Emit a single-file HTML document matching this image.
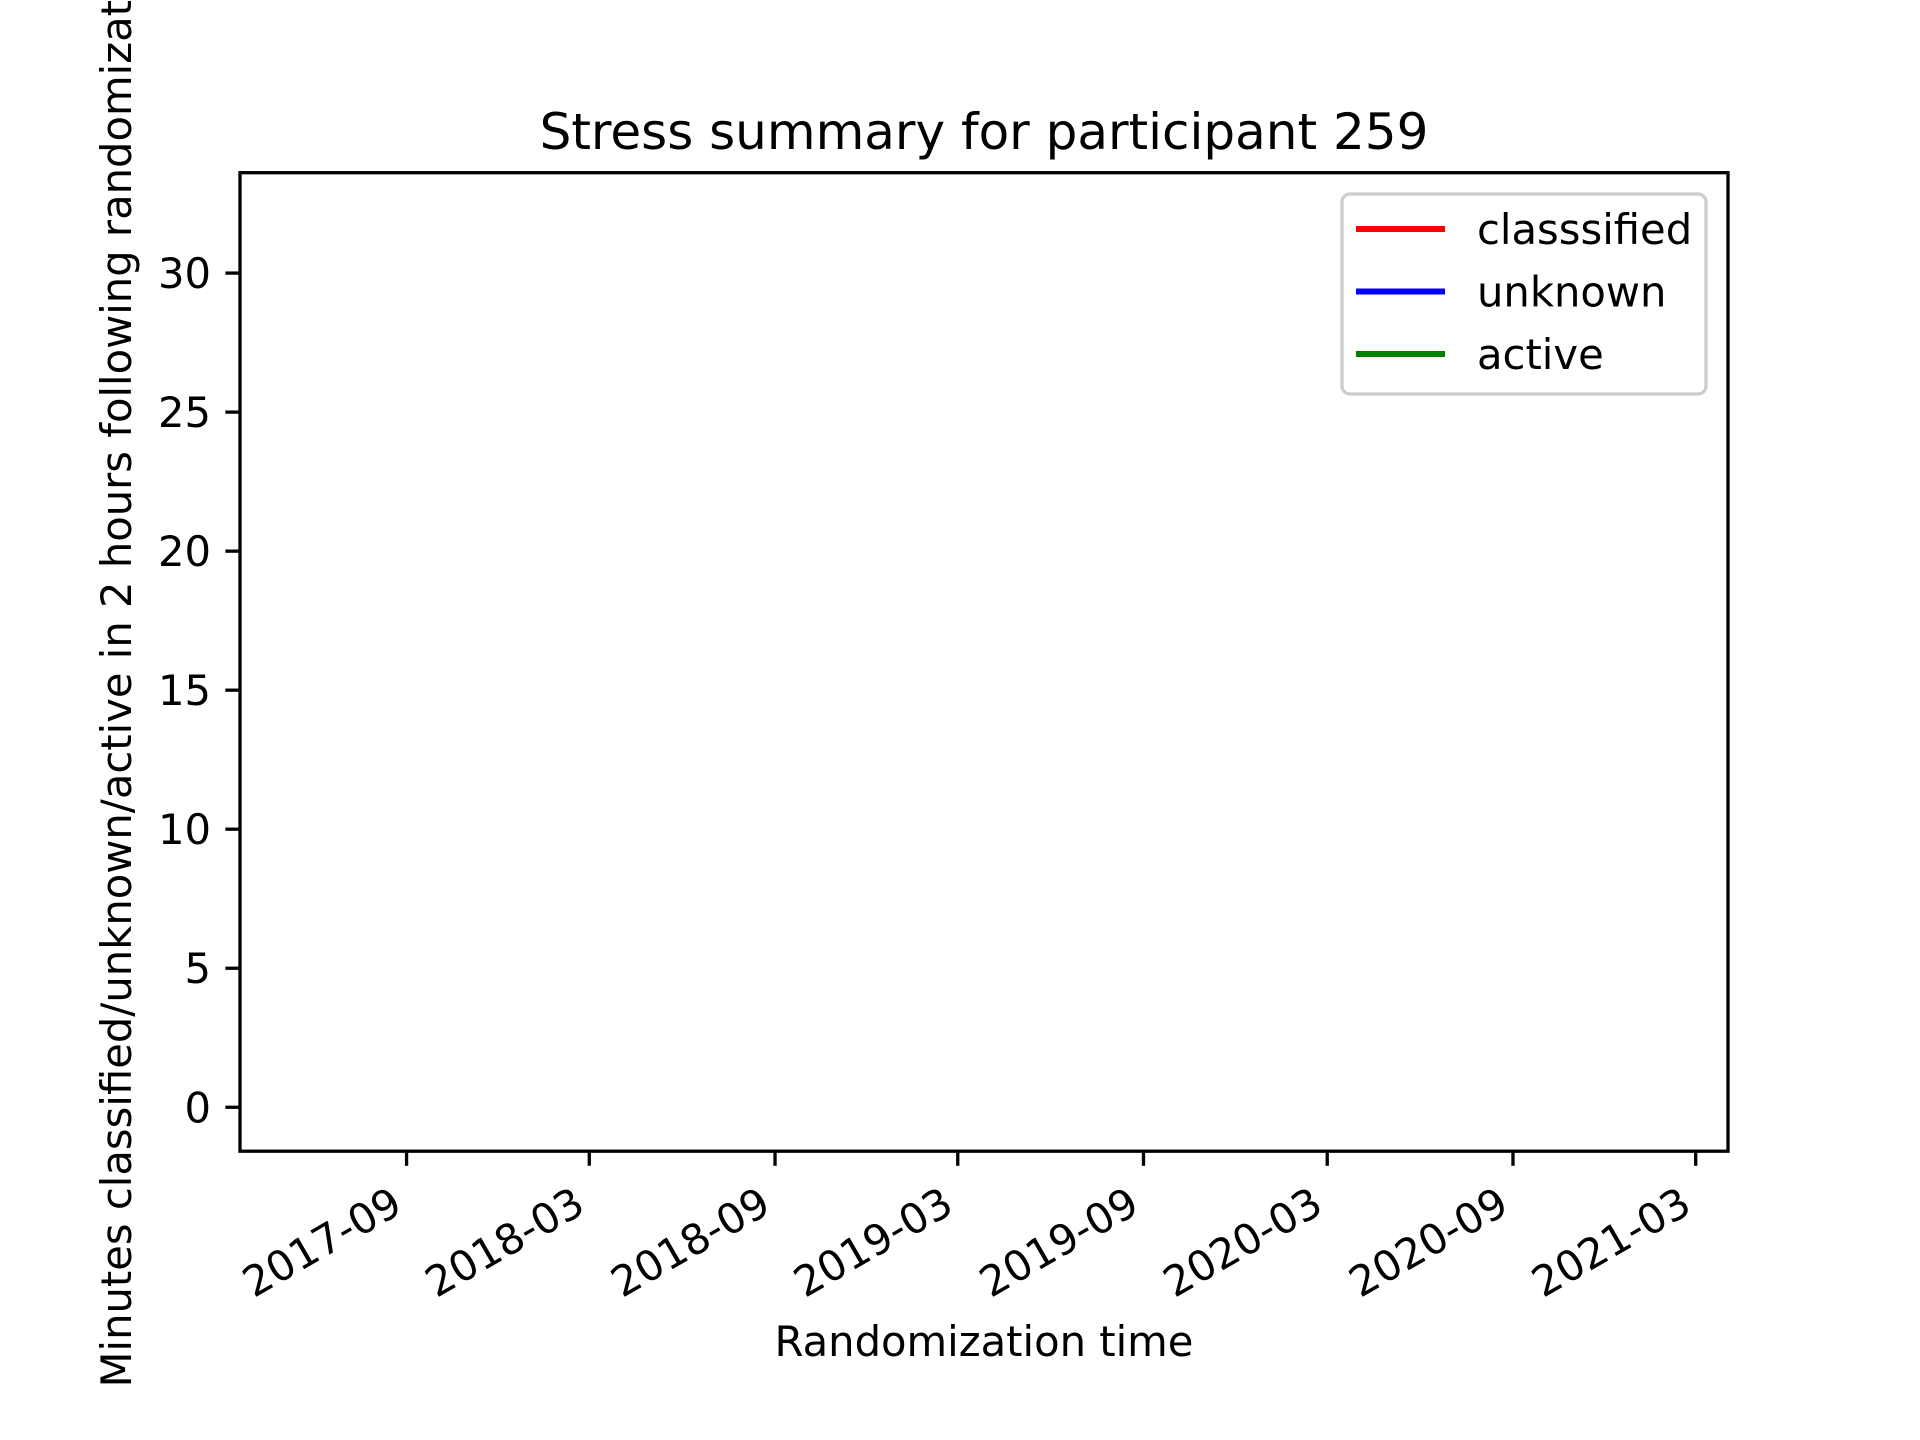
<!DOCTYPE html>
<html><head><meta charset="utf-8"><style>
html,body{margin:0;padding:0;background:#fff;}
svg{display:block;font-family:"DejaVu Sans","Liberation Sans",sans-serif;}
</style></head><body>
<svg id="chart" width="1920" height="1440" viewBox="0 0 1920 1440">
<rect width="1920" height="1440" fill="#fff"/>
<text x="984" y="149" font-size="50" text-anchor="middle">Stress summary for participant 259</text>
<g id="plot"></g>
<rect x="240" y="172.7" width="1488" height="978.5" fill="none" stroke="#000" stroke-width="3.3"/>
<text x="984" y="1356" font-size="41.7" text-anchor="middle">Randomization time</text>
<text transform="translate(131,662) rotate(-90)" font-size="41.7" text-anchor="middle">Minutes classified/unknown/active in 2 hours following randomization</text>
<g>
<rect x="1342" y="194" width="364" height="200" rx="8" fill="#fff" fill-opacity="0.8" stroke="#ccc" stroke-width="3.3"/>
<line x1="1356" y1="229" x2="1445" y2="229" stroke="#ff0000" stroke-width="6"/>
<text x="1477" y="244" font-size="41.7">classsified</text>
<line x1="1356" y1="291.5" x2="1445" y2="291.5" stroke="#0000ff" stroke-width="6"/>
<text x="1477" y="306.5" font-size="41.7">unknown</text>
<line x1="1356" y1="354" x2="1445" y2="354" stroke="#008000" stroke-width="6"/>
<text x="1477" y="369" font-size="41.7">active</text>
</g>
</svg>
<script>
const xTickLabels = ["2017-09","2018-03","2018-09","2019-03","2019-09","2020-03","2020-09","2021-03"];
const yTickValues = [0,5,10,15,20,25,30];
const dates = [];
const classifiedValues = [];
const unknownValues = [];
const activeValues = [];

const L=240,R=1728,T=172.7,B=1151.2;
const xMin=Date.UTC(2017,2,20), xMax=Date.UTC(2021,3,2);
const yMin=-1.58, yMax=33.61;
function xs(d){return L+(d-xMin)/(xMax-xMin)*(R-L);}
function ys(v){return B-(v-yMin)/(yMax-yMin)*(B-T);}
function parseD(s){const p=s.split('-');return Date.UTC(+p[0],+p[1]-1,p[2]?+p[2]:1);}
const NS="http://www.w3.org/2000/svg";
const g=document.getElementById('plot');
function mk(tag,attrs){const e=document.createElementNS(NS,tag);for(const k in attrs)e.setAttribute(k,attrs[k]);g.appendChild(e);return e;}
yTickValues.forEach(v=>{
  const y=ys(v);
  const t=mk('line',{x1:L-14.6,x2:L,y1:y,y2:y,stroke:'#000','stroke-width':3.3});
  
  
  const tx=mk('text',{x:L-29,y:y+15,'font-size':41.7,'text-anchor':'end'});
  tx.textContent=v;
  
  
});
xTickLabels.forEach(s=>{
  const x=xs(parseD(s));
  const t=mk('line',{x1:x,x2:x,y1:B,y2:B+14.6,stroke:'#000','stroke-width':3.3});
  
  
  const tx=mk('text',{transform:`translate(${x-2},${B+60}) rotate(-30)`,'font-size':41.7,'text-anchor':'end'});
  tx.textContent=s;
  
  
});
function series(vals,color,name){
  if(!vals.length)return;
  const pts=vals.map((v,i)=>xs(parseD(dates[i]))+','+ys(v)).join(' ');
  const p=mk('polyline',{points:pts,fill:'none',stroke:color,'stroke-width':6});
  
  
}
series(classifiedValues,'#ff0000','classified-line');
series(unknownValues,'#0000ff','unknown-line');
series(activeValues,'#008000','active-line');
</script>
</body></html>
